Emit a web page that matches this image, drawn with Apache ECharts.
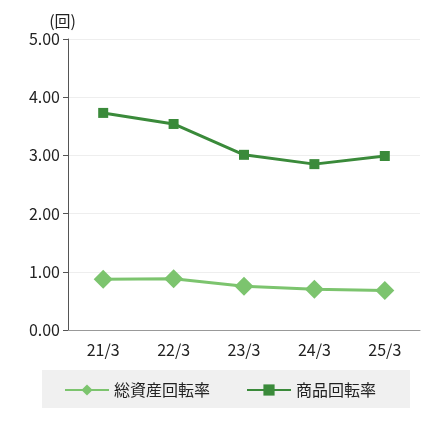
<!DOCTYPE html><html><head><meta charset="utf-8"><script src="https://cdn.jsdelivr.net/npm/echarts@6/dist/echarts.min.js"></script>
<style>body{margin:0}#c{width:440px;height:423px}</style></head><body><div id="c"></div><script>
const categories=['21/3','22/3','23/3','24/3','25/3'];
const totalAssetTurnover=[0.87,0.88,0.75,0.70,0.68];
const inventoryTurnover=[3.73,3.54,3.01,2.85,2.99];
const c=echarts.init(document.getElementById('c'));
const font='"Noto Sans CJK JP", sans-serif';
c.setOption({
animation:false,
textStyle:{fontFamily:font},
graphic:[{type:'rect',left:42,top:370,shape:{width:368,height:38},style:{fill:'#f0f0f0'},z:-1}],
grid:{left:68,right:20,top:39,bottom:93},
legend:{top:377,left:'center',itemGap:36,itemWidth:44,itemHeight:14,textStyle:{fontSize:16,color:'#222',fontFamily:font},data:['総資産回転率','商品回転率']},
xAxis:{type:'category',data:categories,boundaryGap:true,axisLine:{lineStyle:{color:'#999'}},axisTick:{show:false},axisLabel:{fontSize:16,color:'#222',margin:12}},
yAxis:{type:'value',min:0,max:5,interval:1,name:'(回)',nameGap:10,nameTextStyle:{fontSize:16,color:'#222',align:'right',padding:[0,-8,0,0]},axisLine:{show:true,lineStyle:{color:'#555'}},axisTick:{show:true,length:5,lineStyle:{color:'#555'}},splitLine:{lineStyle:{color:'#eee'}},axisLabel:{fontSize:16,color:'#222',formatter:v=>v.toFixed(2)}},
series:[
{name:'総資産回転率',type:'line',data:totalAssetTurnover,symbol:'diamond',symbolSize:19,lineStyle:{width:3,color:'#7cc46e'},itemStyle:{color:'#7cc46e'}},
{name:'商品回転率',type:'line',data:inventoryTurnover,symbol:'rect',symbolSize:10,lineStyle:{width:3,color:'#3a8a3a'},itemStyle:{color:'#3a8a3a'}}
]});
</script></body></html>
